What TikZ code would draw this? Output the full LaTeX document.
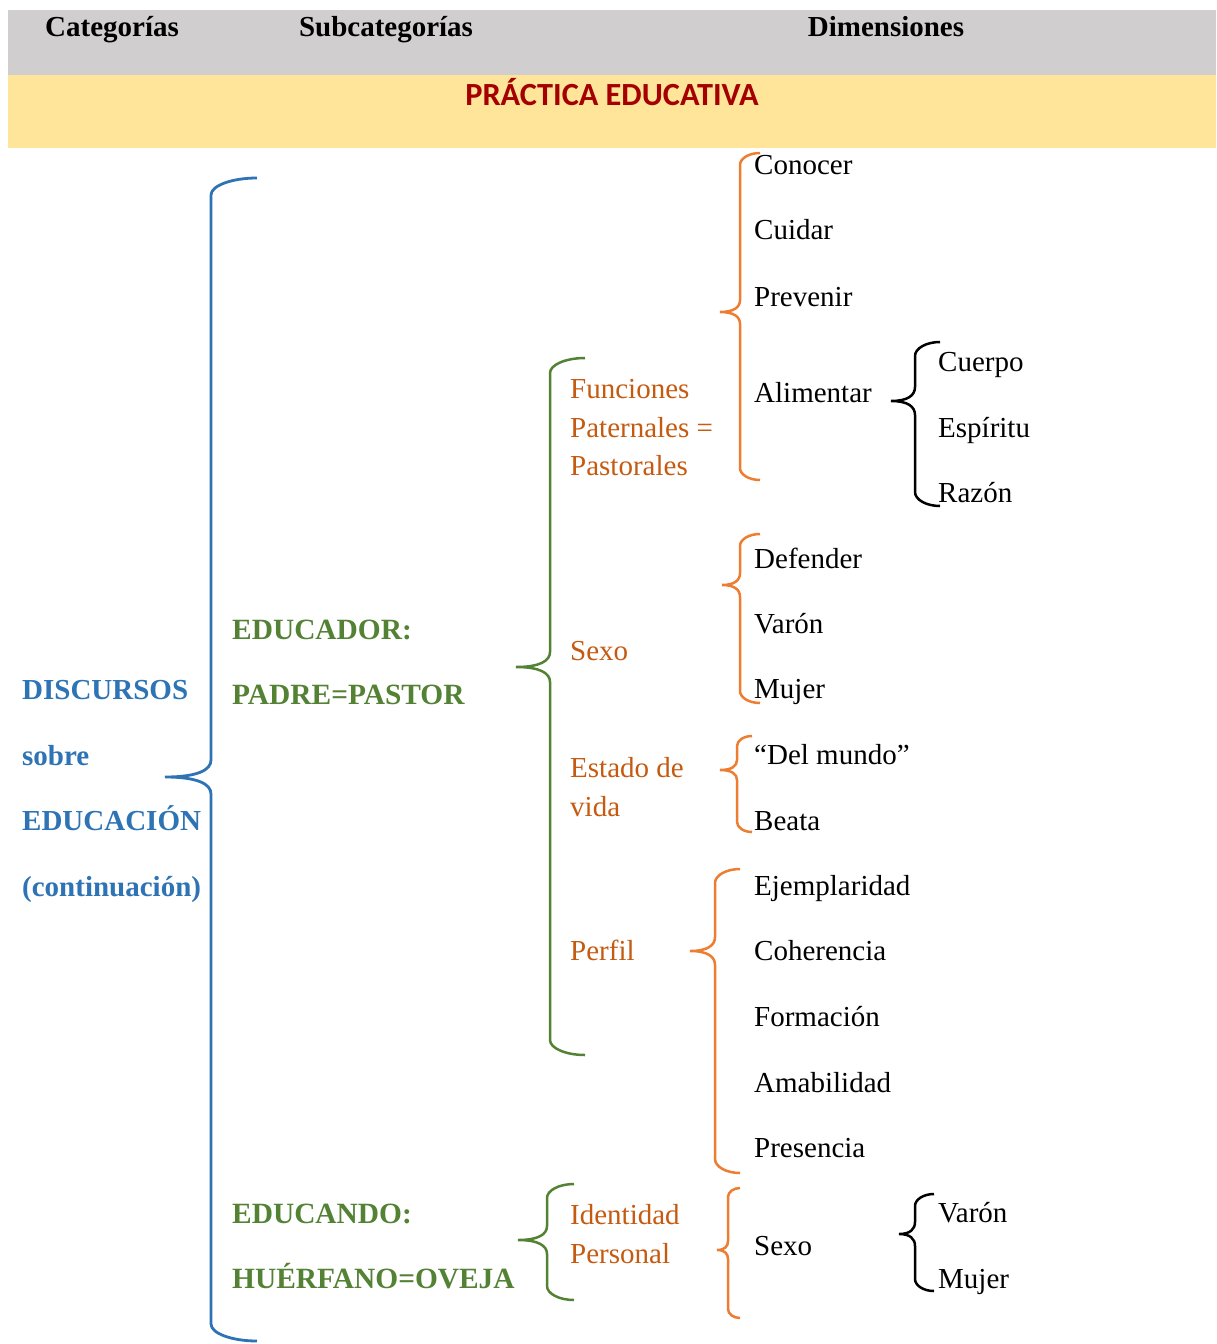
\documentclass[tikz,border=0pt]{standalone}
\usepackage{fontspec}
\setmainfont{Liberation Serif}
\newfontfamily\calib{Carlito}
\definecolor{hdrgray}{RGB}{208,206,206}
\definecolor{bandyel}{RGB}{255,229,153}
\definecolor{darkred}{RGB}{165,0,0}
\definecolor{catblue}{RGB}{46,116,181}
\definecolor{subgreen}{RGB}{84,130,53}
\definecolor{dimorange}{RGB}{197,90,17}
\definecolor{braceorange}{RGB}{237,125,49}
\newcommand\cbrace[8]{%
 \draw[#1] (#7,#5) .. controls +({-0.55*(#7-#2)},0) and +(0,{-0.55*#8}) .. (#2,{#5+#8})
   -- (#2,{#4-#8}) .. controls +(0,{0.6*#8}) and +({0.7*(#2-#3)},0) .. (#3,#4)
   .. controls +({0.7*(#2-#3)},0) and +(0,{-0.6*#8}) .. (#2,{#4+#8})
   -- (#2,{#6-#8}) .. controls +(0,{0.55*#8}) and +({-0.55*(#7-#2)},0) .. (#7,#6);}
\tikzset{
  txt/.style={inner sep=0pt, anchor=base west, font=\fontsize{29bp}{33bp}\selectfont},
  dim/.style={txt, text=black},
  sub/.style={txt, text=dimorange},
  cat/.style={txt, text=subgreen, font=\fontsize{29.4bp}{33bp}\selectfont\bfseries},
  disc/.style={txt, text=catblue, font=\fontsize{29bp}{33bp}\selectfont\bfseries},
  hdr/.style={inner sep=0pt, anchor=base, font=\fontsize{29bp}{33bp}\selectfont\bfseries},
  bl/.style={line width=2.8bp, catblue},
  gr/.style={line width=2.5bp, subgreen},
  orb/.style={line width=2.5bp, braceorange},
  bk/.style={line width=2.5bp, black}
}
\begin{document}
\begin{tikzpicture}[x=1bp,y=-1bp]
\useasboundingbox (0,0) rectangle (1216,1344);
\fill[white] (0,0) rectangle (1216,1344);
\fill[hdrgray] (8,10) rectangle (1216,75);
\fill[bandyel] (8,75) rectangle (1216,148);
\node[hdr] (hcat) at (112,37) {Categorías};
\node[hdr] (hsub) at (386,37) {Subcategorías};
\node[hdr] (hdim) at (886,37) {Dimensiones};
\node[inner sep=0pt, anchor=base, text=darkred, font=\calib\fontsize{32.3bp}{36bp}\selectfont\bfseries] (band) at (612,106) {PRÁCTICA EDUCATIVA};

% braces
\cbrace{bl}{211}{165}{777}{178}{1341}{257}{17}
\cbrace{gr}{550}{516}{667}{358}{1055}{585}{15}
\cbrace{orb}{740}{720}{312}{153}{480}{760}{12}
\cbrace{bk}{915}{891}{401}{342}{506}{940}{14}
\cbrace{orb}{740}{722}{585}{534}{703}{760}{12}
\cbrace{orb}{737}{720}{770}{736}{832}{752}{10}
\cbrace{orb}{715}{690}{951}{869}{1173}{740}{14}
\cbrace{gr}{547}{518}{1240}{1184}{1300}{574}{14}
\cbrace{orb}{728}{717}{1250}{1188}{1318}{740}{9}
\cbrace{bk}{915}{899}{1234}{1194}{1291}{934}{12}

% categories
\node[disc] (d1) at (22,699) {DISCURSOS};
\node[disc] (d2) at (22,765) {sobre};
\node[disc] (d3) at (22,830) {EDUCACIÓN};
\node[disc] (d4) at (22,896) {(continuación)};

% subcategories
\node[cat] (s1) at (232,639) {EDUCADOR:};
\node[cat] (s2) at (232,704) {PADRE=PASTOR};
\node[cat] (s3) at (232,1223) {EDUCANDO:};
\node[cat] (s4) at (232,1288) {HUÉRFANO=OVEJA};

% dimension groups
\node[sub] (f1) at (570,398) {Funciones};
\node[sub] (f2) at (570,437) {Paternales =};
\node[sub] (f3) at (570,475) {Pastorales};
\node[sub] (sx) at (570,660) {Sexo};
\node[sub] (e1) at (570,777) {Estado de};
\node[sub] (e2) at (570,816) {vida};
\node[sub] (pf) at (570,960) {Perfil};
\node[sub] (i1) at (570,1224) {Identidad};
\node[sub] (i2) at (570,1263) {Personal};

% dimensions
\node[dim] (c1) at (754,175) {Conocer};
\node[dim] (c2) at (754,240) {Cuidar};
\node[dim] (c3) at (754,306) {Prevenir};
\node[dim] (c4) at (754,402) {Alimentar};
\node[dim] (a1) at (938,371) {Cuerpo};
\node[dim] (a2) at (938,437) {Espíritu};
\node[dim] (a3) at (938,502) {Razón};
\node[dim] (x1) at (754,568) {Defender};
\node[dim] (x2) at (754,633) {Varón};
\node[dim] (x3) at (754,698) {Mujer};
\node[dim] (v1) at (754,764) {“Del mundo”};
\node[dim] (v2) at (754,830) {Beata};
\node[dim] (p1) at (754,895) {Ejemplaridad};
\node[dim] (p2) at (754,960) {Coherencia};
\node[dim] (p3) at (754,1026) {Formación};
\node[dim] (p4) at (754,1092) {Amabilidad};
\node[dim] (p5) at (754,1157) {Presencia};
\node[dim] (ix) at (754,1255) {Sexo};
\node[dim] (iv) at (938,1222) {Varón};
\node[dim] (im) at (938,1288) {Mujer};
\end{tikzpicture}
\end{document}
